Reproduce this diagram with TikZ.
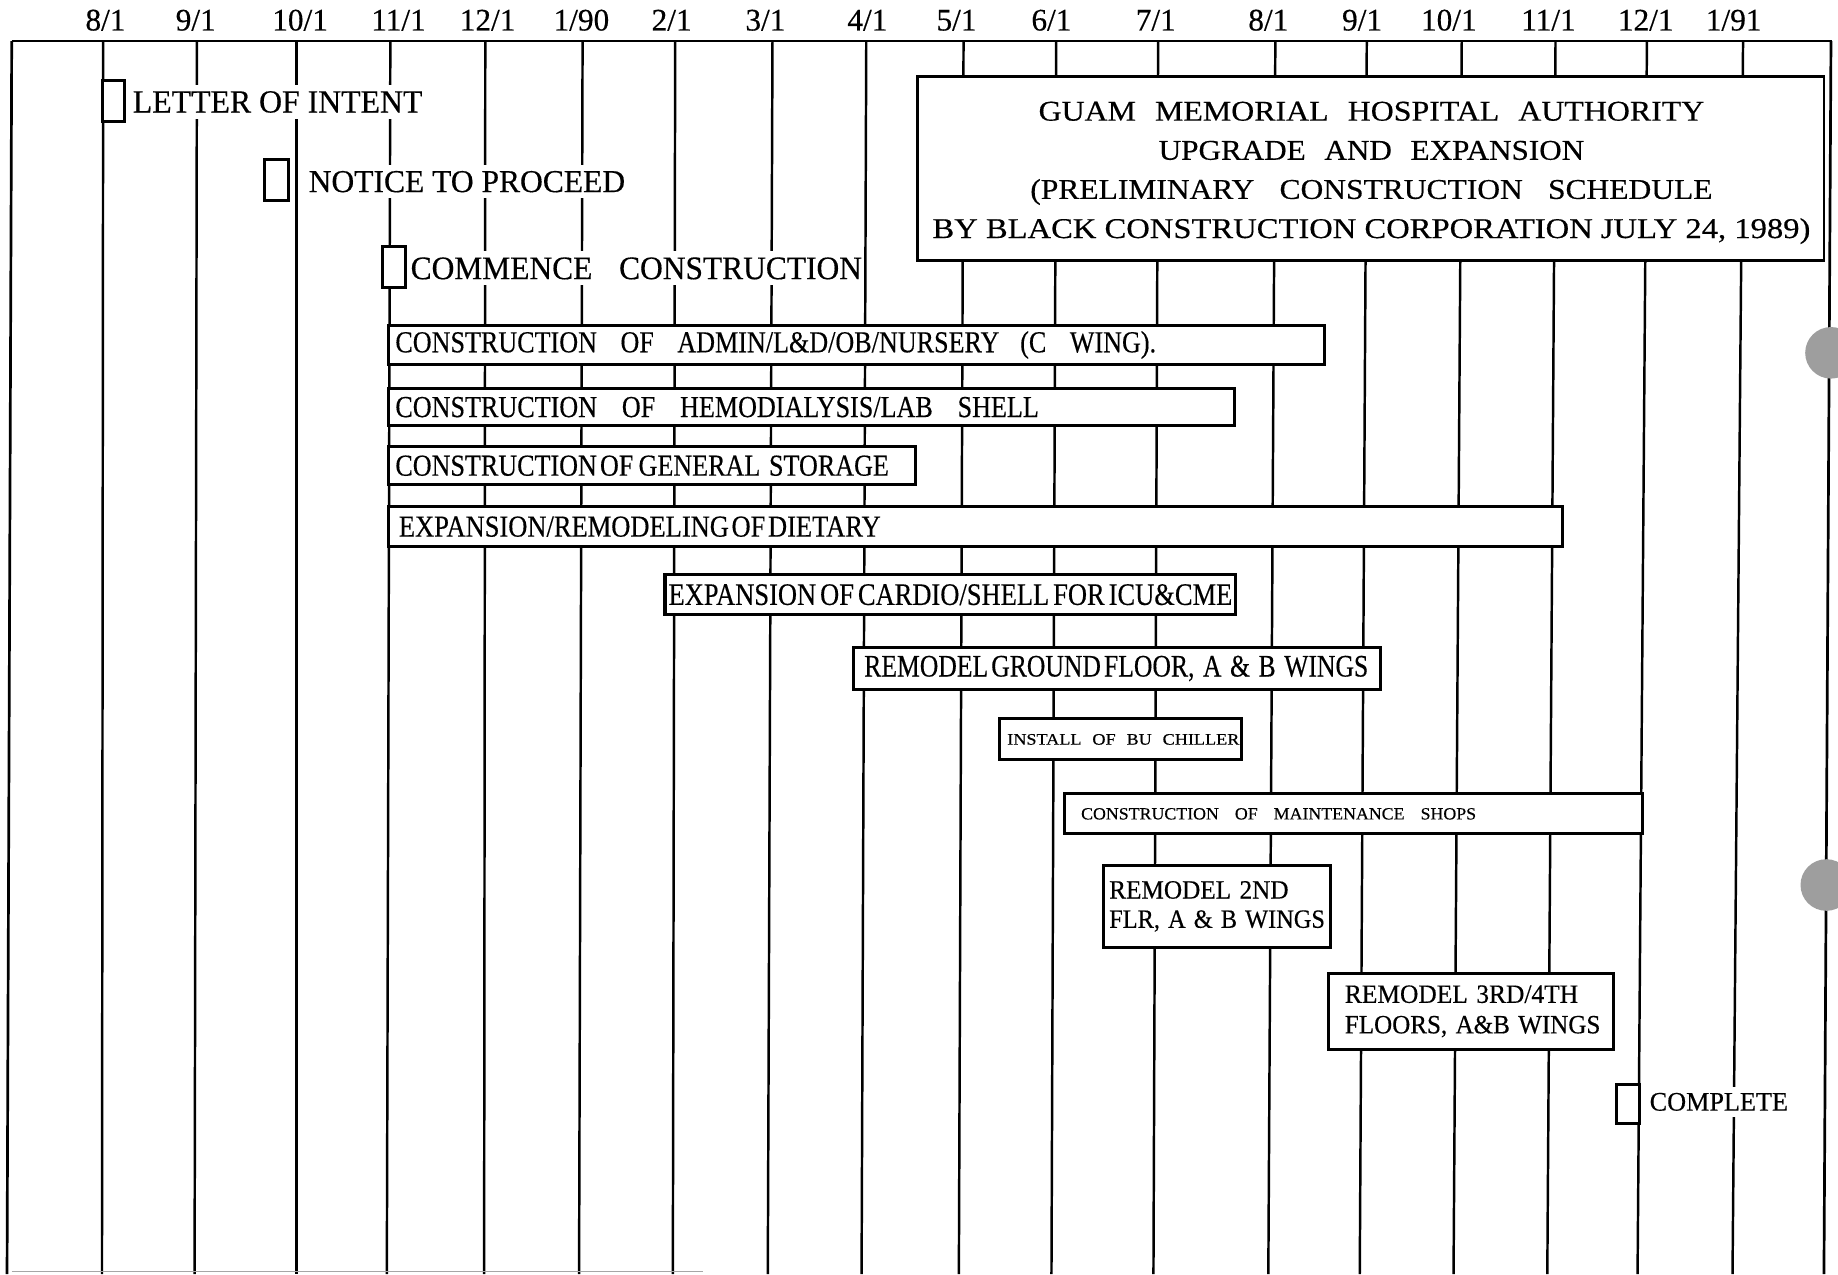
\documentclass[tikz,border=0pt]{standalone}
\usepackage{fontspec}
\setmainfont{Liberation Serif}[FakeBold=0.4]
\newlength\upx
\setlength\upx{0.02cm}
\newcommand\fw[2]{\resizebox{#1\upx}{\height}{#2}}
\newcommand\fsz[1]{\fontsize{#1}{#1}\selectfont}
\begin{document}
\begin{tikzpicture}[x=0.02cm,y=-0.02cm,
  gline/.style={line width=2.1\upx},
  frame/.style={line width=2.3\upx},
  milebox/.style={draw, fill=white, line width=2.6\upx, inner sep=0pt, anchor=north west},
  lbl/.style={fill=white, inner xsep=2\upx, inner ysep=5\upx, anchor=west},
  date/.style={anchor=base, inner sep=0pt, font=\fsz{15.2}},
  bar/.style={draw, fill=white, line width=2.6\upx, anchor=north west, inner sep=0pt, align=left},
  hole/.style={fill=black!38},
]
\useasboundingbox (0,0) rectangle (1568,1087);
\clip (0,0) rectangle (1568,1087);
\fill[white] (0,0) rectangle (1568,1087);

% month grid lines (slightly skewed scan)
\foreach \a/\b in {88/87,168/166,253/253,333/330,414/413,497/494,576/574,659/655,739/735,
                   822/818,901/897,988/984,1088/1082,1166/1160,1247/1240,1327/1320,1405/1397,1487/1478}
  \draw[gline] (\a,35) -- (\b,1087);

% frame
\draw[frame] (10,35) -- (1563,35);
\draw[frame] (10,35) -- (6,1087);
\draw[frame] (1562,35) -- (1556,1087);
\draw[black!35, line width=1\upx] (10,1085) -- (600,1085);

% date labels
\node[date] (d1)  at (90,26)   {8/1};
\node[date] (d2)  at (167,26)  {9/1};
\node[date] (d3)  at (256,26)  {10/1};
\node[date] (d4)  at (340,26)  {11/1};
\node[date] (d5)  at (416,26)  {12/1};
\node[date] (d6)  at (496,26)  {1/90};
\node[date] (d7)  at (573,26)  {2/1};
\node[date] (d8)  at (653,26)  {3/1};
\node[date] (d9)  at (740,26)  {4/1};
\node[date] (d10) at (816,26)  {5/1};
\node[date] (d11) at (897,26)  {6/1};
\node[date] (d12) at (986,26)  {7/1};
\node[date] (d13) at (1082,26) {8/1};
\node[date] (d14) at (1162,26) {9/1};
\node[date] (d15) at (1236,26) {10/1};
\node[date] (d16) at (1321,26) {11/1};
\node[date] (d17) at (1404,26) {12/1};
\node[date] (d18) at (1479,26) {1/91};

% title box
\node[draw, fill=white, line width=2.3\upx, minimum width=773\upx, minimum height=157\upx,
      inner sep=0pt] (title) at (1169.5,143.5) {};
\node[align=center, inner sep=0pt, font=\fontsize{13.9}{19}\selectfont] (titlet) at (1170,147.5)
  {\fw{568}{GUAM\hspace{0.6em}MEMORIAL\hspace{0.6em}HOSPITAL\hspace{0.6em}AUTHORITY}\\
   \fw{363}{UPGRADE\hspace{0.6em}AND\hspace{0.6em}EXPANSION}\\
   \fw{582}{(PRELIMINARY\hspace{0.8em}CONSTRUCTION\hspace{0.8em}SCHEDULE}\\
   \fw{749}{BY BLACK CONSTRUCTION CORPORATION JULY 24, 1989)}};

% milestones
\node[milebox, minimum width=19\upx, minimum height=35\upx] (loi) at (86,67) {};
\node[lbl, font=\fsz{15.7}] (loit) at (111,87) {\fw{247}{LETTER OF INTENT}};
\node[milebox, minimum width=21\upx, minimum height=35\upx] (ntp) at (224,135) {};
\node[lbl, font=\fsz{15.5}] (ntpt) at (261,155) {\fw{270}{NOTICE TO PROCEED}};
\node[milebox, minimum width=20\upx, minimum height=35\upx] (cc) at (325,209) {};
\node[lbl, font=\fsz{16}] (cct) at (348,229) {\fw{385}{COMMENCE\hspace{0.85em}CONSTRUCTION}};

% activity bars
\node[bar, minimum height=34\upx, text width=799\upx, font=\fsz{14.8}] (b1) at (330,276)
  {\hspace*{6\upx}\fw{649}{CONSTRUCTION\hspace{0.9em}OF\hspace{0.9em}ADMIN/L\&D/OB/NURSERY\hspace{0.8em}(C\hspace{0.9em}WING).}};
\node[bar, minimum height=32\upx, text width=722\upx, font=\fsz{14.8}] (b2) at (330,330)
  {\hspace*{6\upx}\fw{549}{CONSTRUCTION\hspace{0.95em}OF\hspace{0.95em}HEMODIALYSIS/LAB\hspace{0.95em}SHELL}};
\node[bar, minimum height=32\upx, text width=450\upx, font=\fsz{14.8}] (b3) at (330,380)
  {\hspace*{6\upx}\fw{421}{CONSTRUCTION\hspace{0.12em}OF\hspace{0.2em}GENERAL STORAGE}};
\node[bar, minimum height=34\upx, text width=1002\upx, font=\fsz{14.8}] (b4) at (330,431)
  {\hspace*{9\upx}\fw{411}{EXPANSION/REMODELING\hspace{0.1em}OF\hspace{0.1em}DIETARY}};
\node[bar, minimum height=34\upx, text width=487\upx, font=\fsz{15.2}] (b5) at (566,489)
  {\hspace*{3\upx}\fw{481}{EXPANSION\hspace{0.15em}OF\hspace{0.15em}CARDIO/SHELL\hspace{0.15em}FOR\hspace{0.15em}ICU\&CME}};
\node[bar, minimum height=36\upx, text width=449\upx, font=\fsz{15.2}] (b6) at (727,551)
  {\hspace*{9\upx}\fw{430}{REMODEL\hspace{0.12em}GROUND\hspace{0.12em}FLOOR, A \& B WINGS}};
\node[bar, minimum height=35\upx, text width=207\upx, font=\fsz{7.8}] (b7) at (851,612)
  {\hspace*{7\upx}\fw{198}{INSTALL\hspace{0.6em}OF\hspace{0.6em}BU\hspace{0.6em}CHILLER}};
\node[bar, minimum height=34\upx, text width=493\upx, font=\fsz{8.3}] (b8) at (907,676)
  {\hspace*{14\upx}\fw{337}{CONSTRUCTION\hspace{0.9em}OF\hspace{0.9em}MAINTENANCE\hspace{0.9em}SHOPS}};
\node[bar, minimum height=70\upx, text width=194\upx, font=\fontsize{12.8}{14.2}\selectfont] (b9) at (940,737)
  {\hspace*{5\upx}\fw{153}{REMODEL 2ND}\\
   \hspace*{5\upx}\fw{184}{FLR, A \& B WINGS}};
\node[bar, minimum height=65\upx, text width=243\upx, font=\fontsize{12.8}{14.8}\selectfont] (b10) at (1132,829)
  {\hspace*{14\upx}\fw{199}{REMODEL 3RD/4TH}\\
   \hspace*{14\upx}\fw{218}{FLOORS, A\&B WINGS}};

% completion
\node[milebox, minimum width=19\upx, minimum height=33\upx] (cmp) at (1378,924) {};
\node[lbl, font=\fsz{13}] (cmpt) at (1405,940) {\fw{118}{COMPLETE}};

% binder holes
\fill[hole] (1562,301) circle [radius=22];
\fill[hole] (1558,755) circle [radius=22];
\end{tikzpicture}
\end{document}
